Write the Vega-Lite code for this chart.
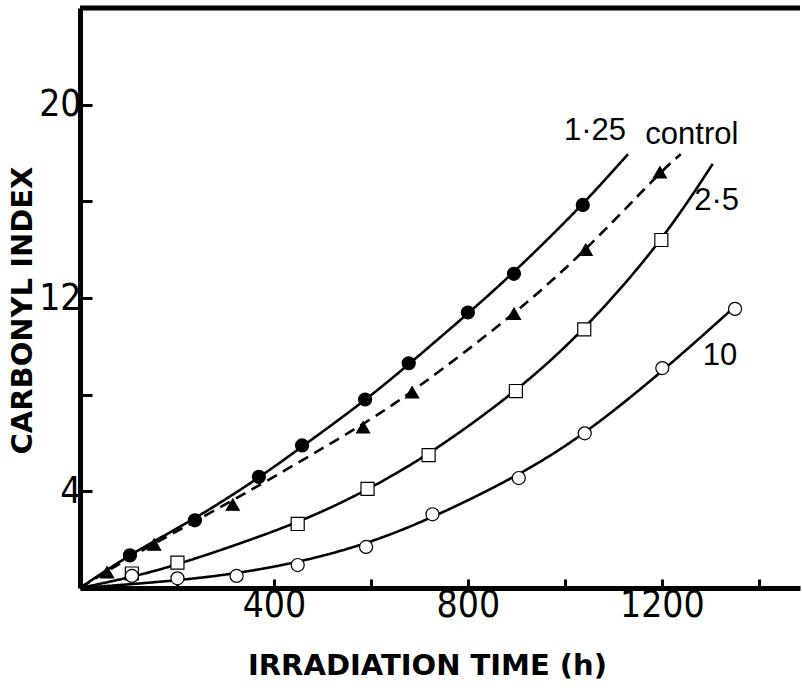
{
  "$schema": "https://vega.github.io/schema/vega-lite/v6.json",
  "autosize": "none",
  "width": 720,
  "height": 580,
  "padding": {"left": 80, "top": 8, "right": 2, "bottom": 100},
  "background": "white",
  "config": {"view": {"stroke": null}},
  "datasets": {
    "curves": [
      {"series": "1·25", "x": 0, "y": 0}, {"series": "1·25", "x": 103, "y": 1.4}, {"series": "1·25", "x": 237, "y": 2.85}, {"series": "1·25", "x": 369, "y": 4.55}, {"series": "1·25", "x": 458, "y": 5.85}, {"series": "1·25", "x": 588, "y": 7.75}, {"series": "1·25", "x": 678, "y": 9.25}, {"series": "1·25", "x": 800, "y": 11.35}, {"series": "1·25", "x": 895, "y": 13.05}, {"series": "1·25", "x": 1037, "y": 15.85}, {"series": "1·25", "x": 1130, "y": 17.95},
      {"series": "control", "x": 0, "y": 0}, {"series": "control", "x": 56, "y": 0.7}, {"series": "control", "x": 153, "y": 1.85}, {"series": "control", "x": 315, "y": 3.6}, {"series": "control", "x": 584, "y": 6.75}, {"series": "control", "x": 685, "y": 8.1}, {"series": "control", "x": 895, "y": 11.3}, {"series": "control", "x": 1043, "y": 13.95}, {"series": "control", "x": 1196, "y": 17.2}, {"series": "control", "x": 1239, "y": 17.95},
      {"series": "2·5", "x": 0, "y": 0}, {"series": "2·5", "x": 107, "y": 0.45}, {"series": "2·5", "x": 201, "y": 0.95}, {"series": "2·5", "x": 449, "y": 2.65}, {"series": "2·5", "x": 593, "y": 4.05}, {"series": "2·5", "x": 719, "y": 5.5}, {"series": "2·5", "x": 899, "y": 8.1}, {"series": "2·5", "x": 1040, "y": 10.65}, {"series": "2·5", "x": 1199, "y": 14.3}, {"series": "2·5", "x": 1305, "y": 17.55},
      {"series": "10", "x": 0, "y": 0}, {"series": "10", "x": 200, "y": 0.3}, {"series": "10", "x": 323, "y": 0.6}, {"series": "10", "x": 449, "y": 1.05}, {"series": "10", "x": 590, "y": 1.8}, {"series": "10", "x": 727, "y": 2.9}, {"series": "10", "x": 905, "y": 4.65}, {"series": "10", "x": 1041, "y": 6.35}, {"series": "10", "x": 1201, "y": 8.95}, {"series": "10", "x": 1340, "y": 11.45}
    ],
    "points": [
      {"series": "1·25", "x": 103, "y": 1.35}, {"series": "1·25", "x": 237, "y": 2.8}, {"series": "1·25", "x": 369, "y": 4.6}, {"series": "1·25", "x": 458, "y": 5.9}, {"series": "1·25", "x": 588, "y": 7.8}, {"series": "1·25", "x": 678, "y": 9.3}, {"series": "1·25", "x": 800, "y": 11.4}, {"series": "1·25", "x": 895, "y": 13.0}, {"series": "1·25", "x": 1037, "y": 15.85},
      {"series": "control", "x": 56, "y": 0.65}, {"series": "control", "x": 153, "y": 1.8}, {"series": "control", "x": 315, "y": 3.45}, {"series": "control", "x": 584, "y": 6.65}, {"series": "control", "x": 685, "y": 8.1}, {"series": "control", "x": 895, "y": 11.35}, {"series": "control", "x": 1043, "y": 14.0}, {"series": "control", "x": 1196, "y": 17.2},
      {"series": "2·5", "x": 107, "y": 0.6}, {"series": "2·5", "x": 201, "y": 1.05}, {"series": "2·5", "x": 449, "y": 2.65}, {"series": "2·5", "x": 593, "y": 4.1}, {"series": "2·5", "x": 719, "y": 5.5}, {"series": "2·5", "x": 899, "y": 8.15}, {"series": "2·5", "x": 1040, "y": 10.7}, {"series": "2·5", "x": 1199, "y": 14.4},
      {"series": "10", "x": 107, "y": 0.5}, {"series": "10", "x": 201, "y": 0.4}, {"series": "10", "x": 323, "y": 0.5}, {"series": "10", "x": 449, "y": 0.95}, {"series": "10", "x": 590, "y": 1.7}, {"series": "10", "x": 727, "y": 3.05}, {"series": "10", "x": 905, "y": 4.55}, {"series": "10", "x": 1041, "y": 6.4}, {"series": "10", "x": 1201, "y": 9.1}, {"series": "10", "x": 1351, "y": 11.55}
    ],
    "labels": [
      {"text": "1·25", "x": 1062, "y": 18.9},
      {"text": "control", "x": 1262, "y": 18.75},
      {"text": "2·5", "x": 1313, "y": 16.0},
      {"text": "10", "x": 1320, "y": 9.6}
    ],
    "frame": [{"top": 24}]
  },
  "encoding": {
    "x": {
      "field": "x", "type": "quantitative",
      "scale": {"domain": [0, 1485], "nice": false, "zero": false},
      "axis": {
        "title": "IRRADIATION TIME (h)",
        "values": [200, 400, 600, 800, 1000, 1200, 1400],
        "format": "d",
        "labelExpr": "datum.value % 400 == 0 ? datum.label : ''",
        "grid": false,
        "domainColor": "black", "domainWidth": 5,
        "tickColor": "black", "tickWidth": 3, "tickSize": -9,
        "labelFont": "Liberation Sans Narrow, DejaVu Sans Condensed, sans-serif",
        "labelFontSize": 37, "labelColor": "black", "labelPadding": 8,
        "labelBaseline": "top",
        "titleFont": "DejaVu Sans", "titleFontWeight": "bold", "titleFontSize": 29,
        "titleColor": "black", "titleX": 347, "titleY": 77, "titleBaseline": "middle", "titleAlign": "center"
      }
    },
    "y": {
      "field": "y", "type": "quantitative",
      "scale": {"domain": [0, 24], "nice": false, "zero": false},
      "axis": {
        "title": "CARBONYL INDEX",
        "values": [4, 8, 12, 16, 20],
        "labelExpr": "datum.value % 8 == 4 ? datum.label : ''",
        "grid": false,
        "domainColor": "black", "domainWidth": 5,
        "tickColor": "black", "tickWidth": 3, "tickSize": -12,
        "labelFont": "Liberation Sans Narrow, DejaVu Sans Condensed, sans-serif",
        "labelFontSize": 37, "labelColor": "black", "labelPadding": 11,
        "titleFont": "DejaVu Sans", "titleFontWeight": "bold", "titleFontSize": 29,
        "titleColor": "black", "titleX": -58, "titleY": 302, "titleBaseline": "middle", "titleAlign": "center", "titleAngle": -90
      }
    }
  },
  "layer": [
    {
      "data": {"name": "frame"},
      "mark": {"type": "rule", "color": "black", "strokeWidth": 5},
      "encoding": {"y": {"field": "top", "type": "quantitative"}, "x": null}
    },
    {
      "data": {"name": "curves"},
      "mark": {"type": "line", "interpolate": "basis", "color": "black", "strokeWidth": 2.6},
      "encoding": {
        "detail": {"field": "series"},
        "strokeDash": {
          "field": "series", "type": "nominal",
          "scale": {"domain": ["1·25", "control", "2·5", "10"], "range": [[1, 0], [11, 7], [1, 0], [1, 0]]},
          "legend": null
        }
      }
    },
    {
      "data": {"name": "points"},
      "mark": {"type": "point", "filled": true, "stroke": "black", "strokeWidth": 1.2, "size": 170, "opacity": 1},
      "encoding": {
        "shape": {
          "field": "series", "type": "nominal",
          "scale": {"domain": ["1·25", "control", "2·5", "10"], "range": ["circle", "triangle-up", "square", "circle"]},
          "legend": null
        },
        "fill": {
          "field": "series", "type": "nominal",
          "scale": {"domain": ["1·25", "control", "2·5", "10"], "range": ["black", "black", "white", "white"]},
          "legend": null
        }
      }
    },
    {
      "data": {"name": "labels"},
      "mark": {"type": "text", "font": "Liberation Sans", "fontSize": 31, "color": "black", "align": "center", "baseline": "middle"},
      "encoding": {"text": {"field": "text"}}
    }
  ]
}
